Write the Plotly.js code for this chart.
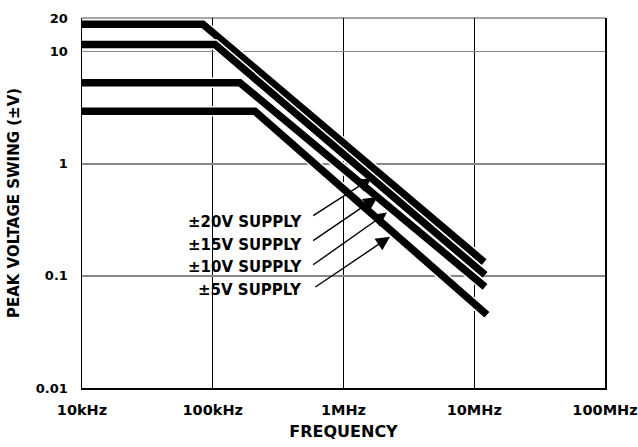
<!DOCTYPE html>
<html>
<head>
<meta charset="utf-8">
<script src="https://cdn.plot.ly/plotly-3.0.1.min.js"></script>
<style>html,body{margin:0;padding:0;background:#fff;}</style>
</head>
<body>
<div id="chart" style="width:638px;height:447px;"></div>
<script>
// ---- data ----
const freqTicks = [1e4, 1e5, 1e6, 1e7, 1e8];
const freqTickText = ['10kHz', '100kHz', '1MHz', '10MHz', '100MHz'];
const voltTicks = [0.01, 0.1, 1, 10, 20];
const voltTickText = ['0.01', '0.1', '1', '10', '20'];

const seriesNames = ['±20V SUPPLY', '±15V SUPPLY', '±10V SUPPLY', '±5V SUPPLY'];
const s20Freq = [1e4, 8.4e4, 1.19e7];
const s20Volt = [17.6, 17.6, 0.133];
const s15Freq = [1e4, 1.04e5, 1.21e7];
const s15Volt = [11.6, 11.6, 0.102];
const s10Freq = [1e4, 1.61e5, 1.21e7];
const s10Volt = [5.3, 5.3, 0.080];
const s5Freq = [1e4, 2.10e5, 1.25e7];
const s5Volt = [2.95, 2.95, 0.045];

// label anchors and arrows (frequency, volts)
const labelFreq = [5.0e5, 5.0e5, 5.0e5, 5.0e5];
const labelVolt = [0.305, 0.189, 0.120, 0.075];
const arrowTailFreq = [5.71e5, 5.71e5, 5.71e5, 5.94e5];
const arrowTailVolt = [0.338, 0.202, 0.123, 0.078];
const arrowHeadFreq = [1.64e6, 1.82e6, 2.15e6, 2.27e6];
const arrowHeadVolt = [0.745, 0.507, 0.367, 0.224];

// ---- build traces ----
const seriesFreq = [s20Freq, s15Freq, s10Freq, s5Freq];
const seriesVolt = [s20Volt, s15Volt, s10Volt, s5Volt];
const traces = [];
seriesNames.forEach((name, i) => {
  traces.push({
    x: seriesFreq[i], y: seriesVolt[i], type: 'scatter', mode: 'lines',
    line: {color: '#ffffff', width: 10.5}, showlegend: false, hoverinfo: 'skip'
  });
  traces.push({
    x: seriesFreq[i], y: seriesVolt[i], type: 'scatter', mode: 'lines', name: name,
    line: {color: '#000000', width: 7.5}, showlegend: false
  });
});

const annotations = [];
seriesNames.forEach((name, i) => {
  annotations.push({
    x: Math.log10(labelFreq[i]), y: Math.log10(labelVolt[i]), xref: 'x', yref: 'y',
    text: name, showarrow: false, xanchor: 'right', yanchor: 'middle',
    font: {family: 'DejaVu Sans', size: 15, color: '#000', weight: 'bold'}
  });
  annotations.push({
    x: Math.log10(arrowHeadFreq[i]), y: Math.log10(arrowHeadVolt[i]),
    ax: Math.log10(arrowTailFreq[i]), ay: Math.log10(arrowTailVolt[i]),
    xref: 'x', yref: 'y', axref: 'x', ayref: 'y',
    text: '', showarrow: true, arrowhead: 2, arrowsize: 2, arrowwidth: 1.4,
    arrowcolor: '#000', standoff: 0, startstandoff: 0
  });
});

const layout = {
  width: 638, height: 447,
  margin: {l: 82, r: 33, t: 18, b: 59},
  paper_bgcolor: '#fff', plot_bgcolor: '#fff',
  font: {family: 'DejaVu Sans', size: 15, color: '#000', weight: 'bold'},
  showlegend: false,
  xaxis: {
    type: 'log', range: [4, 8],
    tickvals: freqTicks, ticktext: freqTickText,
    ticks: '', ticklabelstandoff: 8, ticklabeloverflow: 'allow',
    tickfont: {family: 'DejaVu Sans', size: 14.5, color: '#000', weight: 'bold'},
    showgrid: true, gridcolor: '#000', gridwidth: 1,
    showline: true, linecolor: '#000', linewidth: 1.5, mirror: false,
    zeroline: false, automargin: false,
    title: {text: 'FREQUENCY', standoff: 9,
      font: {family: 'DejaVu Sans', size: 16, color: '#000', weight: 'bold'}}
  },
  yaxis: {
    type: 'log', range: [-2, Math.log10(20)],
    tickvals: voltTicks, ticktext: voltTickText,
    ticks: '', ticklabelstandoff: 10,
    tickfont: {family: 'DejaVu Sans', size: 13, color: '#000', weight: 'bold'},
    showgrid: true, gridcolor: '#888', gridwidth: 1.5,
    showline: true, linecolor: '#000', linewidth: 1.5, mirror: true,
    zeroline: false, automargin: false,
    title: {text: 'PEAK VOLTAGE SWING (±V)', standoff: 12,
      font: {family: 'DejaVu Sans', size: 15, color: '#000', weight: 'bold'}}
  },
  shapes: [{type: 'line', xref: 'paper', yref: 'paper', x0: 0, x1: 1, y0: 1, y1: 1,
    line: {color: '#888', width: 1.5}, layer: 'below'}],
  annotations: annotations
};

Plotly.newPlot('chart', traces, layout, {displayModeBar: false, staticPlot: true});
</script>
</body>
</html>
